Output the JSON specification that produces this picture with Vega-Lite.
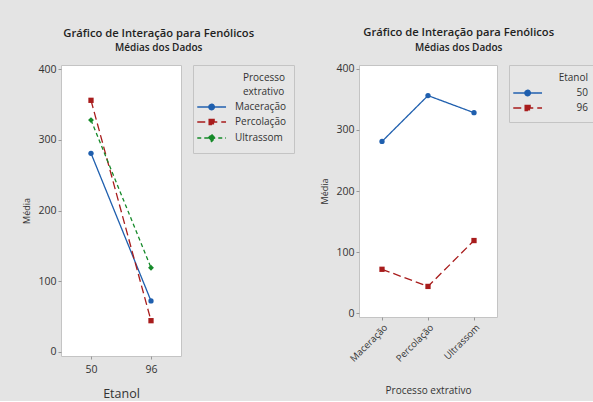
{
  "$schema": "https://vega.github.io/schema/vega-lite/v6.json",
  "background": "#e4e4e4",
  "padding": {"left": 22, "top": 26, "right": 0, "bottom": 0},
  "spacing": 25,
  "datasets": {
    "d": [
      {"Etanol": "50", "Processo": "Maceração", "Media": 281},
      {"Etanol": "50", "Processo": "Percolação", "Media": 356},
      {"Etanol": "50", "Processo": "Ultrassom", "Media": 328},
      {"Etanol": "96", "Processo": "Maceração", "Media": 72},
      {"Etanol": "96", "Processo": "Percolação", "Media": 44},
      {"Etanol": "96", "Processo": "Ultrassom", "Media": 119}
    ]
  },
  "data": {"name": "d"},
  "resolve": {"scale": {"color": "independent", "shape": "independent", "strokeDash": "independent"}, "legend": {"color": "independent", "shape": "independent", "strokeDash": "independent"}},
  "config": {
    "font": "Open Sans",
    "view": {"fill": "white", "stroke": "#c4c4c4"},
    "axis": {"grid": false, "domain": false, "tickColor": "#999", "tickSize": 3, "labelColor": "#333", "titleColor": "#333", "labelFontSize": 10.5, "labelPadding": 2, "titleFontWeight": "normal"},
    "title": {"fontSize": 11.2, "fontWeight": 600, "color": "#222", "subtitleFontSize": 10, "subtitleFontWeight": 600, "subtitleColor": "#222", "subtitlePadding": 4, "anchor": "middle", "frame": "bounds", "offset": 11},
    "legend": {"fillColor": "#e6e6e6", "strokeColor": "#c4c4c4", "padding": 8, "offset": 12, "titleFontSize": 10, "titleFontWeight": "normal", "titleColor": "#333", "labelFontSize": 10, "labelColor": "#333", "symbolSize": 30, "symbolStrokeWidth": 1.4, "symbolOpacity": 1, "symbolOffset": -6, "rowPadding": 3, "titleLineHeight": 14}
  },
  "hconcat": [
    {
      "title": {"text": "Gráfico de Interação para Fenólicos", "subtitle": "Médias dos Dados"},
      "width": 120,
      "height": 291,
      "encoding": {
        "x": {"field": "Etanol", "type": "ordinal", "scale": {"type": "point", "padding": 0.5}, "axis": {"title": "Etanol", "labelAngle": 0, "labelPadding": 5, "titleFontSize": 12.5, "titlePadding": 13}},
        "y": {"field": "Media", "type": "quantitative", "scale": {"domain": [-6, 406], "nice": false, "zero": false}, "axis": {"title": "Média", "values": [0, 100, 200, 300, 400], "titleFontSize": 9, "titlePadding": 6}}
      },
      "layer": [
        {
          "mark": {"type": "line", "strokeWidth": 1.3},
          "encoding": {
            "color": {"field": "Processo", "type": "nominal", "scale": {"domain": ["Maceração", "Percolação", "Ultrassom"], "range": ["#1f5fae", "#a81c1c", "#168a2a"]}, "legend": {"title": ["Processo", "extrativo"], "titleAnchor": "middle", "titleAlign": "left", "labelOffset": 30}},
            "strokeDash": {"field": "Processo", "type": "nominal", "scale": {"domain": ["Maceração", "Percolação", "Ultrassom"], "range": [[1, 0], [8, 4], [4, 3]]}, "legend": {"title": ["Processo", "extrativo"], "titleAnchor": "middle", "titleAlign": "left", "labelOffset": 30}}
          }
        },
        {
          "mark": {"type": "point", "filled": true, "size": 30, "opacity": 0},
          "encoding": {
            "color": {"field": "Processo", "type": "nominal", "legend": {"title": ["Processo", "extrativo"], "titleAnchor": "middle", "titleAlign": "left", "labelOffset": 30}},
            "shape": {"field": "Processo", "type": "nominal", "scale": {"domain": ["Maceração", "Percolação", "Ultrassom"], "range": ["M-1,0H9.5M5.25,0A1,1,0,1,1,3.25,0A1,1,0,1,1,5.25,0Z", "M-1,0H9.5M3.35,-0.9H5.15V0.9H3.35Z", "M-1,0H9.5M4.25,-1.25L5.5,0L4.25,1.25L3,0Z"]}, "legend": {"title": ["Processo", "extrativo"], "titleAnchor": "middle", "titleAlign": "left", "labelOffset": 30}}
          }
        },
        {
          "transform": [{"filter": "datum.Processo === 'Maceração'"}],
          "mark": {"type": "point", "filled": true, "size": 28, "opacity": 1, "shape": "circle", "color": "#1f5fae"}
        },
        {
          "transform": [{"filter": "datum.Processo === 'Percolação'"}],
          "mark": {"type": "point", "filled": true, "size": 28, "opacity": 1, "shape": "square", "color": "#a81c1c"}
        },
        {
          "transform": [{"filter": "datum.Processo === 'Ultrassom'"}],
          "mark": {"type": "point", "filled": true, "size": 34, "opacity": 1, "shape": "diamond", "color": "#168a2a"}
        }
      ]
    },
    {
      "title": {"text": "Gráfico de Interação para Fenólicos", "subtitle": "Médias dos Dados"},
      "width": 138,
      "height": 252,
      "encoding": {
        "x": {"field": "Processo", "type": "ordinal", "scale": {"type": "point", "padding": 0.5}, "axis": {"title": "Processo extrativo", "labelAngle": -45, "labelFontSize": 9.5, "titleFontSize": 10, "titlePadding": 23}},
        "y": {"field": "Media", "type": "quantitative", "scale": {"domain": [-6, 406], "nice": false, "zero": false}, "axis": {"title": "Média", "values": [0, 100, 200, 300, 400], "titleFontSize": 9, "titlePadding": 6}}
      },
      "layer": [
        {
          "mark": {"type": "line", "strokeWidth": 1.3},
          "encoding": {
            "color": {"field": "Etanol", "type": "nominal", "scale": {"domain": ["50", "96"], "range": ["#1f5fae", "#a81c1c"]}, "legend": {"title": "Etanol", "titleAnchor": "end", "titleAlign": "right", "labelAlign": "right", "labelOffset": 67}},
            "strokeDash": {"field": "Etanol", "type": "nominal", "scale": {"domain": ["50", "96"], "range": [[1, 0], [8, 4]]}, "legend": {"title": "Etanol", "titleAnchor": "end", "titleAlign": "right", "labelAlign": "right", "labelOffset": 67}}
          }
        },
        {
          "mark": {"type": "point", "filled": true, "size": 30, "opacity": 0},
          "encoding": {
            "color": {"field": "Etanol", "type": "nominal", "legend": {"title": "Etanol", "titleAnchor": "end", "titleAlign": "right", "labelAlign": "right", "labelOffset": 67}},
            "shape": {"field": "Etanol", "type": "nominal", "scale": {"domain": ["50", "96"], "range": ["M-1,0H9.5M5.25,0A1,1,0,1,1,3.25,0A1,1,0,1,1,5.25,0Z", "M-1,0H9.5M3.35,-0.9H5.15V0.9H3.35Z"]}, "legend": {"title": "Etanol", "titleAnchor": "end", "titleAlign": "right", "labelAlign": "right", "labelOffset": 67}}
          }
        },
        {
          "transform": [{"filter": "datum.Etanol === '50'"}],
          "mark": {"type": "point", "filled": true, "size": 28, "opacity": 1, "shape": "circle", "color": "#1f5fae"}
        },
        {
          "transform": [{"filter": "datum.Etanol === '96'"}],
          "mark": {"type": "point", "filled": true, "size": 28, "opacity": 1, "shape": "square", "color": "#a81c1c"}
        }
      ]
    }
  ]
}
